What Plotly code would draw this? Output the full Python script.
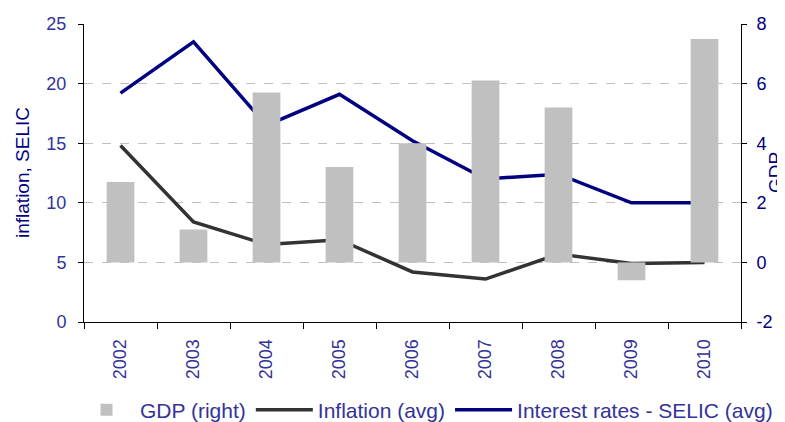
import plotly.graph_objects as go

years = ["2002", "2003", "2004", "2005", "2006", "2007", "2008", "2009", "2010"]
gdp = [2.7, 1.1, 5.7, 3.2, 4.0, 6.1, 5.2, -0.6, 7.5]
inflation = [14.8, 8.4, 6.5, 6.9, 4.2, 3.6, 5.7, 4.9, 5.0]
selic = [19.2, 23.5, 16.5, 19.1, 15.2, 12.0, 12.4, 10.0, 10.0]

left_ticks = [0, 5, 10, 15, 20, 25]
right_ticks = [-2, 0, 2, 4, 6, 8]
right_labels = ["-2", "0", "2", "4", "6", "8"]

FONT = "Liberation Sans, Arial, sans-serif"
TICK_C = "#333399"
NAVY = "#000080"

W, H = 777, 414  # page body has an 8px margin
ML, MR, MT, MB = 76, 44, 16, 100
PW, PH = W - ML - MR, H - MT - MB

fig = go.Figure()
fig.add_trace(go.Bar(x=years, y=gdp, name="GDP (right)", yaxis="y2",
                     marker=dict(color="#C0C0C0", line=dict(width=0)), width=0.38))
fig.add_trace(go.Scatter(x=years, y=inflation, name="Inflation (avg)", mode="lines",
                         line=dict(color="#333333", width=3.5)))
fig.add_trace(go.Scatter(x=years, y=selic, name="Interest rates - SELIC (avg)", mode="lines",
                         line=dict(color=NAVY, width=3.5)))

fig.update_layout(
    width=W, height=H,
    margin=dict(l=ML, r=MR, t=MT, b=MB, autoexpand=False),
    plot_bgcolor="white", paper_bgcolor="white",
    font=dict(family=FONT, color=TICK_C),
    xaxis=dict(type="category", tickson="boundaries", ticks="outside", ticklen=6,
               tickcolor="black", showline=True, linecolor="black", linewidth=1,
               tickangle=-90, tickfont=dict(size=18, color=TICK_C), showgrid=False,
               ticklabelstandoff=9),
    yaxis=dict(range=[0, 25], tickvals=left_ticks, ticks="outside", ticklen=5,
               tickcolor="black", showline=True, linecolor="black", linewidth=1,
               tickfont=dict(size=18, color=TICK_C), showgrid=True,
               gridcolor="#C0C0C0", griddash="dash", gridwidth=1, zeroline=False,
               ticklabelstandoff=8),
    yaxis2=dict(range=[-2, 8], tickvals=right_ticks, ticktext=right_labels,
                overlaying="y", side="right",
                ticks="outside", ticklen=5, tickcolor="black", showline=True,
                linecolor="black", linewidth=1, tickfont=dict(size=18, color=NAVY),
                showgrid=False, zeroline=False, ticklabelstandoff=6),
    showlegend=True,
    legend=dict(orientation="h", xref="paper", yref="paper",
                x=(65 - ML) / PW, xanchor="left",
                y=(MT + PH - 402) / PH, yanchor="middle",
                font=dict(family=FONT, size=21, color=TICK_C),
                itemwidth=57, tracegroupgap=0, borderwidth=0,
                bgcolor="rgba(0,0,0,0)"),
    annotations=[
        dict(text="inflation, SELIC", xref="paper", yref="paper",
             x=(14 - ML) / PW, y=0.5, xanchor="center", yanchor="middle",
             textangle=-90, showarrow=False, font=dict(size=19, color=NAVY)),
        dict(text="GDP", xref="paper", yref="paper",
             x=(767 - ML) / PW, y=0.5, xanchor="center", yanchor="middle",
             textangle=-90, showarrow=False, font=dict(size=19, color=NAVY)),
    ],
)

fig.write_html("out.html")
